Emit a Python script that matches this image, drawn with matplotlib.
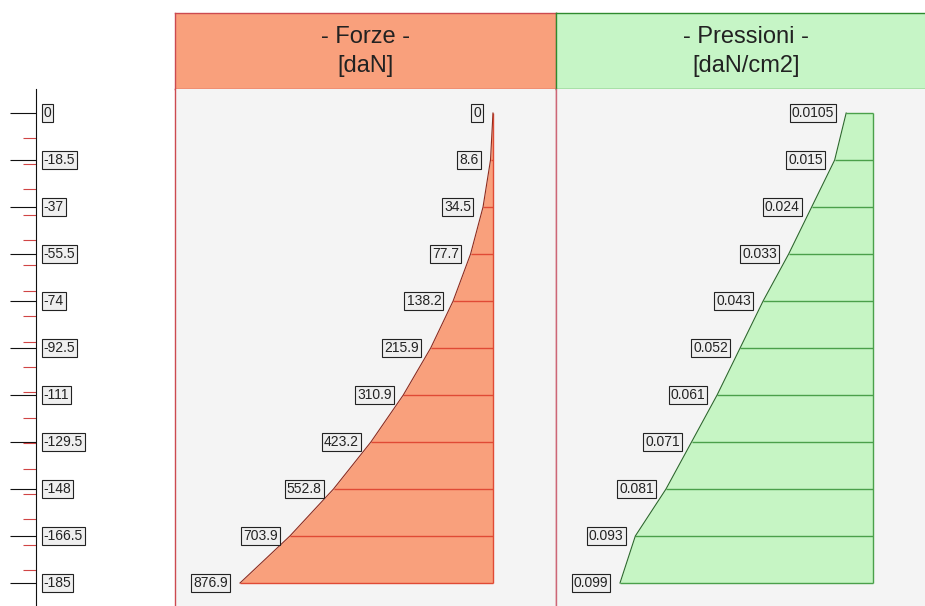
import matplotlib
matplotlib.use("Agg")
import matplotlib.pyplot as plt
import matplotlib.transforms as mtransforms
from matplotlib.ticker import FixedLocator

plt.rcParams['font.family'] = ['Liberation Sans', 'DejaVu Sans']

# depth levels along the wall
depths = [0, -18.5, -37, -55.5, -74, -92.5, -111, -129.5, -148, -166.5, -185]
depth_labels = ["0", "-18.5", "-37", "-55.5", "-74", "-92.5", "-111", "-129.5", "-148", "-166.5", "-185"]
minor_depths = [-10, -20, -30, -40, -50, -60, -70, -80, -90, -100,
                -110, -120, -130, -140, -150, -160, -170, -180]

forze = [0, 8.6, 34.5, 77.7, 138.2, 215.9, 310.9, 423.2, 552.8, 703.9, 876.9]
forze_labels = ["0", "8.6", "34.5", "77.7", "138.2", "215.9", "310.9", "423.2", "552.8", "703.9", "876.9"]

pressioni = [0.0105, 0.015, 0.024, 0.033, 0.043, 0.052, 0.061, 0.071, 0.081, 0.093, 0.099]
pressioni_labels = ["0.0105", "0.015", "0.024", "0.033", "0.043", "0.052", "0.061", "0.071", "0.081", "0.093", "0.099"]

W, H = 925, 606
fig = plt.figure(figsize=(W / 100, H / 100), dpi=100)


def px_rect(x0, y0, x1, y1):
    return [x0 / W, 1 - y1 / H, (x1 - x0) / W, (y1 - y0) / H]


YLIM = (-194.05, 9.45)
box = dict(boxstyle="square,pad=0.15", fc="#efefef", ec="#222222", lw=0.8)

# ---- depth scale on the left ----
axd = fig.add_axes(px_rect(36, 89, 175, 606))
axd.set_ylim(*YLIM)
axd.set_xlim(0, 1)
axd.patch.set_alpha(0)
for s in ("top", "right", "bottom"):
    axd.spines[s].set_visible(False)
axd.spines["left"].set_color("#111111")
axd.spines["left"].set_linewidth(0.8)
axd.set_xticks([])
axd.yaxis.set_major_locator(FixedLocator(depths))
axd.yaxis.set_minor_locator(FixedLocator(minor_depths))
axd.tick_params(axis="y", which="major", direction="out", length=18.7, width=0.8,
                color="#111111", labelleft=False)
axd.tick_params(axis="y", which="minor", direction="out", length=9.4, width=0.8,
                color="#d04545")
tr = mtransforms.blended_transform_factory(axd.transAxes, axd.transData)
for d, lab in zip(depths, depth_labels):
    axd.text(0.055, d, lab, transform=tr, ha="left", va="center", fontsize=10,
             color="#222222", bbox=box)


def panel(x0, x1, head_fc, edge, title, unit):
    axh = fig.add_axes(px_rect(x0, 13, x1, 89))
    axh.set_facecolor(head_fc)
    axh.set_xticks([])
    axh.set_yticks([])
    for s in axh.spines.values():
        s.set_color(edge)
        s.set_linewidth(1.0)
    axh.text(0.5, 0.68, title, ha="center", va="center", fontsize=17, color="#222222",
             transform=axh.transAxes)
    axh.text(0.5, 0.30, unit, ha="center", va="center", fontsize=17, color="#222222",
             transform=axh.transAxes)

    ax = fig.add_axes(px_rect(x0, 89, x1, 606))
    ax.set_facecolor("#f4f4f4")
    ax.set_xticks([])
    ax.set_yticks([])
    ax.spines["bottom"].set_visible(False)
    ax.spines["top"].set_visible(False)
    for s in ("left", "right"):
        ax.spines[s].set_color(edge)
        ax.spines[s].set_linewidth(1.0)
    ax.set_ylim(*YLIM)
    return ax


def diagram(ax, values, labels, fill, outline, grid):
    ax.fill_betweenx(depths, 0, values, color=fill, lw=0, zorder=1)
    ax.hlines(depths, values, 0, color=grid, lw=1.0, zorder=2)
    ax.vlines(0, depths[-1], depths[0], color=grid, lw=1.0, zorder=2)
    ax.plot(values, depths, color=outline, lw=0.8, zorder=3)
    for v, d, lab in zip(values, depths, labels):
        ax.annotate(lab, xy=(v, d), xytext=(-8.5, 0), textcoords="offset points",
                    ha="right", va="center", fontsize=10, color="#222222", bbox=box,
                    zorder=4)


# ---- forces ----
axf = panel(175, 556, "#f9a07c", "#cc4a50", "- Forze -", "[daN]")
axf.set_xlim(1102.2, -218.4)
diagram(axf, forze, forze_labels, "#f9a07c", "#8f2a1c", "#e04a35")

# ---- pressures ----
axp = panel(556, 936, "#c6f5c6", "#2f8a2f", "- Pressioni -", "[daN/cm2]")
axp.spines["left"].set_color("#cc6677")
axp.set_xlim(0.12404, -0.02465)
diagram(axp, pressioni, pressioni_labels, "#c6f5c4", "#2a6a2a", "#4aa04a")

fig.savefig("out.png", dpi=100)
